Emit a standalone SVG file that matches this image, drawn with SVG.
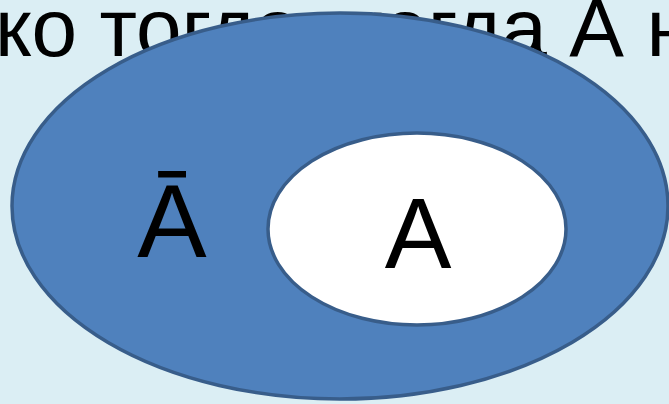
<svg xmlns="http://www.w3.org/2000/svg" width="669" height="404" viewBox="0 0 669 404">
<style>
text{font-family:"Liberation Sans",Arial,sans-serif;fill:#000}
.e{stroke:#385d8a;stroke-width:3.5}
</style>
<rect width="669" height="404" fill="#dbeef4"/>
<text x="-5" y="56" font-size="82" letter-spacing="-0.2">ко тогда, когда А н</text>
<g id="outer">
<ellipse class="e" cx="340" cy="206" rx="328" ry="193" fill="#4f81bd"/>
<text x="172" y="257" font-size="104" text-anchor="middle">Ā</text>
</g>
<g id="inner">
<ellipse class="e" cx="417" cy="229" rx="149" ry="96" fill="#ffffff"/>
<text x="418" y="268" font-size="100" text-anchor="middle">A</text>
</g>
</svg>
